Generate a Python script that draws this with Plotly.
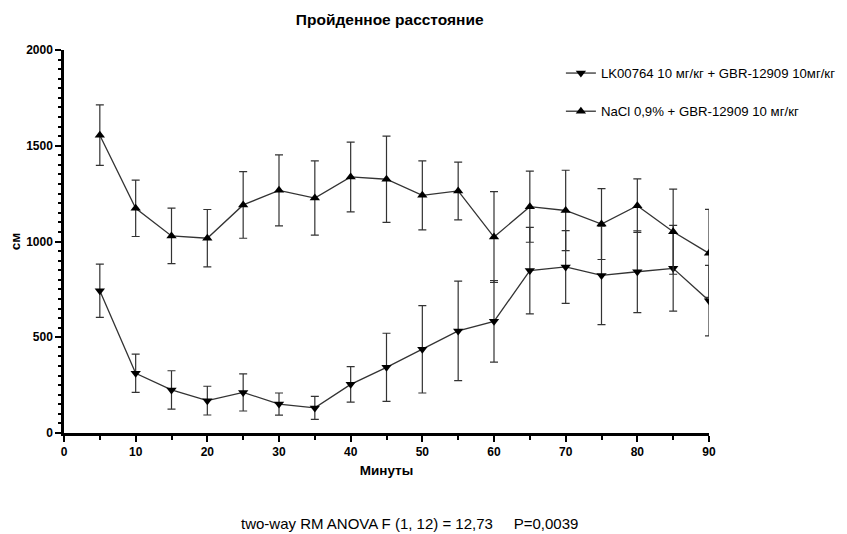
import plotly.graph_objects as go

minutes = [5, 10, 15, 20, 25, 30, 35, 40, 45, 50, 55, 60, 65, 70, 75, 80, 85, 90]

lk_name = "LK00764 10 мг/кг + GBR-12909 10мг/кг"
lk_mean = [743, 312, 225, 169, 212, 151, 131, 254, 343, 437, 533, 583, 848, 867, 823, 842, 860, 691]
lk_err = [139, 100, 100, 75, 97, 58, 60, 93, 178, 228, 260, 213, 226, 190, 257, 213, 224, 184]

nacl_name = "NaCl 0,9% + GBR-12909 10 мг/кг"
nacl_mean = [1555, 1173, 1029, 1017, 1191, 1267, 1227, 1337, 1325, 1241, 1264, 1023, 1182, 1162, 1091, 1187, 1051, 938]
nacl_err = [158, 147, 145, 150, 174, 185, 194, 182, 225, 180, 151, 237, 186, 210, 185, 140, 222, 230]

title_text = "Пройденное расстояние"
x_title = "Минуты"
y_title = "см"
footnote = "two-way RM ANOVA F (1, 12) = 12,73     P=0,0039"

FONT = "Arial, 'Liberation Sans', sans-serif"

fig = go.Figure()
fig.add_trace(go.Scatter(
    x=minutes, y=lk_mean, name=lk_name, mode="lines+markers",
    legendgroup="a",
    line=dict(color="#333333", width=1.3),
    marker=dict(symbol="triangle-down", size=9, color="black"),
    error_y=dict(type="data", array=lk_err, visible=True, color="#333333", thickness=1.2, width=4),
))
fig.add_trace(go.Scatter(
    x=minutes, y=nacl_mean, name=nacl_name, mode="lines+markers",
    legendgroup="b",
    line=dict(color="#333333", width=1.3),
    marker=dict(symbol="triangle-up", size=9, color="black"),
    error_y=dict(type="data", array=nacl_err, visible=True, color="#333333", thickness=1.2, width=4),
))

fig.update_layout(
    width=839, height=526,
    margin=dict(l=56, r=138, t=42, b=101, autoexpand=False),
    paper_bgcolor="white", plot_bgcolor="white",
    font=dict(family=FONT, color="black"),
    title=dict(text="<b>" + title_text + "</b>", x=0.505, xref="paper", xanchor="center",
               y=1 - 12 / 526, yanchor="middle", font=dict(size=15.5)),
    showlegend=True,
    legend=dict(xref="container", yref="container", x=0.659, y=0.905,
                xanchor="left", yanchor="top",
                font=dict(size=13.2), tracegroupgap=18, traceorder="grouped",
                bgcolor="rgba(0,0,0,0)"),
    annotations=[dict(text=footnote, xref="paper", yref="paper", x=0.5357, y=-0.235,
                      xanchor="center", yanchor="middle", showarrow=False,
                      font=dict(size=15))],
)

fig.update_xaxes(
    range=[0, 90], tickmode="linear", tick0=0, dtick=10,
    showline=True, linecolor="black", linewidth=2.5,
    ticks="outside", ticklen=6, tickwidth=2, tickcolor="black",
    minor=dict(ticks="outside", dtick=5, ticklen=4, tickwidth=2, tickcolor="black"),
    showgrid=False, zeroline=False,
    tickfont=dict(size=12),
    tickprefix="<b>", ticksuffix="</b>",
    title=dict(text="<b>" + x_title + "</b>", font=dict(size=13.5), standoff=8),
)
fig.update_yaxes(
    range=[0, 2000], tickmode="linear", tick0=0, dtick=500,
    showline=True, linecolor="black", linewidth=2.5,
    ticks="outside", ticklen=6, tickwidth=2, tickcolor="black",
    minor=dict(ticks="outside", dtick=50, ticklen=3, tickwidth=1.5, tickcolor="black"),
    showgrid=False, zeroline=False,
    tickfont=dict(size=12),
    tickprefix="<b>", ticksuffix="</b>",
    title=dict(text="<b>" + y_title + "</b>", font=dict(size=13.5), standoff=4),
)

fig.write_html("out.html")
